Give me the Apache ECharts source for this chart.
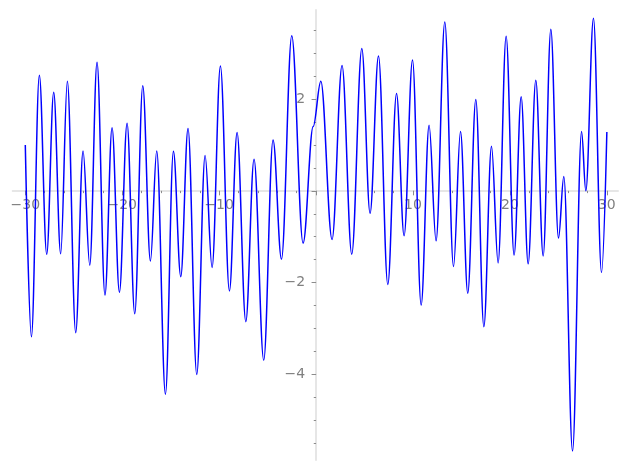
<!DOCTYPE html>
<html>
<head>
<meta charset="utf-8">
<script src="https://cdn.jsdelivr.net/npm/echarts@6.0.0/dist/echarts.min.js"></script>
<style>
html,body{margin:0;padding:0;background:#fff;}
#chart{width:627px;height:470px;}
</style>
</head>
<body>
<div id="chart"></div>
<script>
// Extrema (and end points)
const xValues = [
  -30.00, -29.37, -28.55, -27.79, -27.07, -26.35, -25.66, -24.80, -24.04, -23.35,
  -22.60, -21.78, -21.05, -20.29, -19.50, -18.71, -17.88, -17.09, -16.44, -15.54,
  -14.72, -13.96, -13.21, -12.31, -11.45, -10.73, -9.87, -8.94, -8.15, -7.25,
  -6.40, -5.40, -4.44, -3.57, -2.51, -1.34, -0.30, 0.49, 1.65, 2.68,
  3.68, 4.72, 5.57, 6.44, 7.40, 8.30, 9.08, 9.95, 10.84, 11.66,
  12.38, 13.28, 14.18, 14.90, 15.65, 16.48, 17.31, 18.10, 18.78, 19.61,
  20.43, 21.16, 21.88, 22.67, 23.43, 24.22, 25.01, 25.56, 26.46, 27.39,
  27.83, 28.62, 29.45, 30.00
];
const yValues = [
  1.00, -3.18, 2.52, -1.38, 2.15, -1.37, 2.39, -3.09, 0.87, -1.62,
  2.80, -2.27, 1.375, -2.21, 1.47, -2.68, 2.29, -1.53, 0.87, -4.43,
  0.86, -1.87, 1.36, -4.00, 0.77, -1.67, 2.72, -2.18, 1.27, -2.85,
  0.69, -3.69, 1.11, -1.49, 3.38, -1.14, 1.40, 2.39, -1.06, 2.73,
  -1.38, 3.10, -0.49, 2.94, -2.04, 2.12, -0.98, 2.85, -2.49, 1.43,
  -1.09, 3.68, -1.65, 1.29, -2.23, 1.99, -2.96, 0.97, -1.57, 3.37,
  -1.40, 2.05, -1.59, 2.41, -1.42, 3.52, -1.03, 0.31, -5.67, 1.29,
  0.00, 3.76, -1.78, 1.28
];
const xMajorTicks = [-30, -20, -10, 0, 10, 20, 30];
const xMinorTicks = [-30,-28,-26,-24,-22,-20,-18,-16,-14,-12,-10,-8,-6,-4,-2,0,2,4,6,8,10,12,14,16,18,20,22,24,26,28,30];
const yMajorTicks = [-4, -2, 0, 2];
const yMinorTicks = [-5.5,-5,-4.5,-4,-3.5,-3,-2.5,-2,-1.5,-1,-0.5,0,0.5,1,1.5,2,2.5,3,3.5];

const X_MIN = -31.3, X_MAX = 31.15, Y_MIN = -5.865, Y_MAX = 3.94;

const W = 627, H = 470;
const G = { left: 12.7, right: 9, top: 10, bottom: 10 };
const gw = W - G.left - G.right, gh = H - G.top - G.bottom;
// pixel offsets that put each axis through the other's zero (computed from the scales)
const xAxisOffset = -(gh * (0 - Y_MIN) / (Y_MAX - Y_MIN));
const yAxisOffset = -(gw * (0 - X_MIN) / (X_MAX - X_MIN));

const points = xValues.map((x, i) => [x, yValues[i]]);
const fmt = v => (v === 0 ? '' : (v < 0 ? '\u2212' + Math.abs(v) : String(v)));

const axisLineStyle = { color: '#e6e6e6', width: 2 };
const tickColor = '#8c8c8c';
const labelStyle = { color: '#808080', fontSize: 14, fontFamily: 'DejaVu Sans' };

const chart = echarts.init(document.getElementById('chart'), null, { renderer: 'canvas' });
chart.setOption({
  animation: false,
  backgroundColor: '#ffffff',
  grid: { left: G.left, right: G.right, top: G.top, bottom: G.bottom, containLabel: false, outerBoundsMode: 'none' },
  xAxis: [
    {
      type: 'value', min: X_MIN, max: X_MAX, position: 'bottom', offset: xAxisOffset,
      axisLine: { show: true, onZero: false, lineStyle: axisLineStyle },
      axisTick: { show: true, length: 4.5, customValues: xMajorTicks, lineStyle: { color: tickColor, width: 1 } },
      axisLabel: { show: true, customValues: xMajorTicks.filter(v => v !== 0), formatter: fmt, margin: 8, hideOverlap: false, ...labelStyle },
      splitLine: { show: false }
    },
    {
      type: 'value', min: X_MIN, max: X_MAX, position: 'bottom', offset: xAxisOffset,
      axisLine: { show: false, onZero: false },
      axisTick: { show: true, length: 2.3, customValues: xMinorTicks, lineStyle: { color: tickColor, width: 1 } },
      axisLabel: { show: false },
      splitLine: { show: false }
    }
  ],
  yAxis: [
    {
      type: 'value', min: Y_MIN, max: Y_MAX, position: 'left', offset: yAxisOffset,
      axisLine: { show: true, onZero: false, lineStyle: axisLineStyle },
      axisTick: { show: true, length: 4.5, customValues: yMajorTicks, lineStyle: { color: tickColor, width: 1 } },
      axisLabel: { show: true, customValues: yMajorTicks.filter(v => v !== 0), formatter: fmt, margin: 11, hideOverlap: false, ...labelStyle },
      splitLine: { show: false }
    },
    {
      type: 'value', min: Y_MIN, max: Y_MAX, position: 'left', offset: yAxisOffset,
      axisLine: { show: false, onZero: false },
      axisTick: { show: true, length: 2.3, customValues: yMinorTicks, lineStyle: { color: tickColor, width: 1 } },
      axisLabel: { show: false },
      splitLine: { show: false }
    }
  ],
  series: [
    {
      type: 'line',
      xAxisIndex: 0,
      yAxisIndex: 0,
      data: points,
      showSymbol: false,
      smooth: 0.36,
      smoothMonotone: 'x',
      lineStyle: { color: '#0000ff', width: 1.5 },
      z: 5
    }
  ]
});
</script>
</body>
</html>
